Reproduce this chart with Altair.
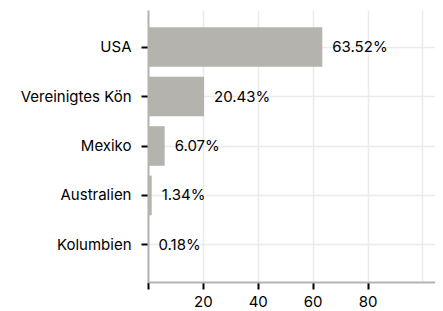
import altair as alt
import pandas as pd

countries = ["USA", "Vereinigtes Kön", "Mexiko", "Australien", "Kolumbien"]
shares = [63.52, 20.43, 6.07, 1.34, 0.18]
labels = ["63.52%", "20.43%", "6.07%", "1.34%", "0.18%"]

df = pd.DataFrame({"country": countries, "share": shares, "label": labels})

FONT = "Inter"
FS = 15

x = alt.X(
    "share:Q",
    scale=alt.Scale(domain=[0, 104.6], nice=False, zero=True),
    axis=alt.Axis(
        title=None,
        values=[0, 20, 40, 60, 80, 100],
        labelExpr="datum.value == 0 || datum.value == 100 ? '' : datum.label",
        tickColor={"condition": {"test": "datum.value >= 100", "value": "transparent"}, "value": "#000000"},
        tickSize=7,
        tickWidth=2,
        domainColor="#b3b3b3",
        domainWidth=2,
        gridColor="#ebebeb",
        gridWidth=1.5,
        labelFont=FONT,
        labelFontSize=FS,
        labelColor="#000000",
        labelPadding=5,
    ),
)
y = alt.Y(
    "country:N",
    sort=countries,
    scale=alt.Scale(paddingInner=0.2, paddingOuter=0.35),
    axis=alt.Axis(
        title=None,
        tickSize=7,
        tickWidth=2,
        tickColor="#000000",
        domainColor="#b3b3b3",
        domainWidth=2,
        grid=True,
        gridColor="#ebebeb",
        gridWidth=1.5,
        labelFont=FONT,
        labelFontSize=FS,
        labelColor="#000000",
        labelPadding=10,
        labelLimit=200,
    ),
)

bars = alt.Chart(df).mark_bar(color="#b4b3ae").encode(x=x, y=y)
text = alt.Chart(df).mark_text(
    align="left", baseline="middle", dx=10, font=FONT, fontSize=FS, color="#000000"
).encode(x="share:Q", y=alt.Y("country:N", sort=countries), text="label:N")

chart = (
    alt.layer(bars, text)
    .properties(
        width=287,
        height=272,
        autosize=alt.AutoSizeParams(type="none"),
        padding={"left": 140, "top": 2, "right": 0, "bottom": 28},
    )
    .configure_view(stroke=None)
)

chart.save("out.html", embed_options={"renderer": "svg", "actions": False})
